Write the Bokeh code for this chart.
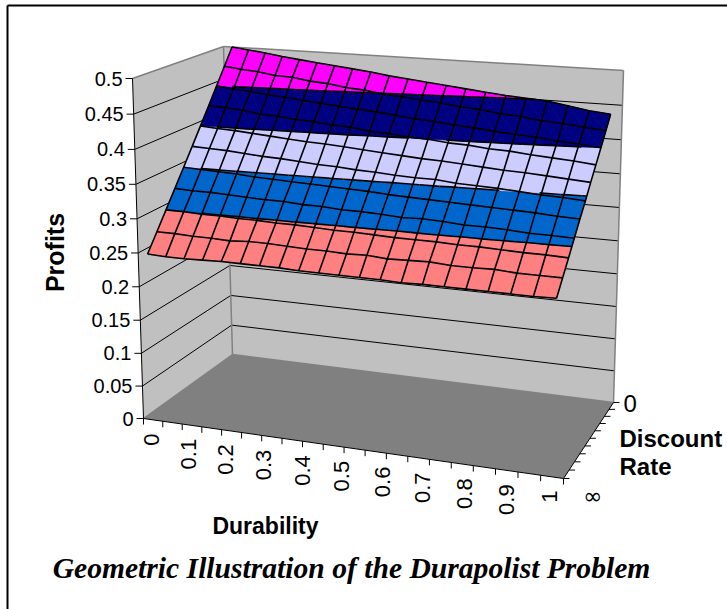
from bokeh.plotting import figure
from bokeh.embed import file_html
from bokeh.resources import INLINE
from bokeh.models import Range1d
from bokeh.core.properties import value
import numpy as np

durability = [round(i * 0.05, 2) for i in range(21)]
discount_steps = list(range(11))
z_ticks = [0, 0.05, 0.1, 0.15, 0.2, 0.25, 0.3, 0.35, 0.4, 0.45, 0.5]
z_labels = ["0", "0.05", "0.1", "0.15", "0.2", "0.25", "0.3", "0.35", "0.4", "0.45", "0.5"]
x_labels = ["0", "0.1", "0.2", "0.3", "0.4", "0.5", "0.6", "0.7", "0.8", "0.9", "1"]
band_edges = [0.2, 0.3, 0.35, 0.4, 0.45, 0.5001]
band_colors = ["#FF8080", "#0066CC", "#CCCCFF", "#000080", "#FF00FF"]

row_0 = [.250,.249,.249,.250,.251,.251,.251,.251,.250,.250,.250,.250,.250,.249,.250,.250,.250,.250,.250,.250,.251]
row_1 = [.275,.275,.274,.274,.273,.275,.275,.274,.273,.273,.272,.273,.271,.272,.273,.271,.271,.272,.270,.270,.270]
row_2 = [.300,.300,.299,.299,.298,.298,.297,.297,.296,.295,.295,.294,.293,.293,.293,.292,.292,.291,.290,.290,.289]
row_3 = [.325,.324,.324,.323,.322,.321,.321,.319,.319,.317,.317,.316,.314,.315,.314,.312,.312,.311,.309,.309,.308]
row_4 = [.350,.349,.348,.347,.345,.344,.343,.342,.341,.340,.339,.337,.336,.335,.334,.333,.332,.331,.330,.328,.327]
row_5 = [.375,.374,.373,.371,.369,.368,.366,.364,.363,.361,.360,.358,.357,.357,.354,.353,.352,.350,.348,.347,.345]
row_6 = [.400,.398,.397,.395,.393,.391,.389,.388,.386,.384,.382,.380,.378,.377,.375,.373,.371,.370,.368,.366,.364]
row_7 = [.425,.424,.422,.418,.417,.414,.413,.410,.409,.405,.404,.401,.400,.397,.396,.393,.392,.389,.387,.385,.382]
row_8 = [.450,.447,.445,.442,.440,.437,.435,.432,.430,.428,.425,.422,.420,.417,.415,.412,.410,.408,.405,.403,.400]
row_9 = [.475,.472,.470,.466,.465,.461,.459,.455,.453,.449,.447,.444,.442,.438,.436,.432,.430,.426,.424,.421,.418]
row_10 = [.500,.497,.494,.490,.487,.484,.481,.478,.475,.471,.468,.465,.462,.459,.456,.453,.451,.449,.444,.439,.436]
profits = [row_0, row_1, row_2, row_3, row_4, row_5, row_6, row_7, row_8, row_9, row_10]

# ---- 3D projection of (durability u, depth v, profit z) onto the page ----
def homography(c):
    (x0, y0), (x1, y1), (x2, y2), (x3, y3) = c  # (0,0) (1,0) (1,1) (0,1)
    dx1, dx2, sx = x1 - x2, x3 - x2, x0 - x1 + x2 - x3
    dy1, dy2, sy = y1 - y2, y3 - y2, y0 - y1 + y2 - y3
    d = dx1 * dy2 - dx2 * dy1
    g = (sx * dy2 - dx2 * sy) / d
    h = (dx1 * sy - sx * dy1) / d
    return np.array([[x1 - x0 + g * x1, x3 - x0 + h * x3, x0],
                     [y1 - y0 + g * y1, y3 - y0 + h * y3, y0],
                     [g, h, 1.0]])

FLOOR = homography([(143, 418), (563, 478), (613, 402), (232, 354)])
ROOF = homography([(132, 78), (574, 112), (623, 70), (223, 46)])
Z_MAX = 0.5
K = 0.054

def quad(H, u, v):
    w = H @ np.array([u, v, 1.0])
    return w[0] / w[2], w[1] / w[2]

def proj(u, v, z):
    t = z / Z_MAX
    t = t / (1 + K - K * t)
    a, b = quad(FLOOR, u, v), quad(ROOF, u, v)
    return a[0] + (b[0] - a[0]) * t, a[1] + (b[1] - a[1]) * t

INSET = 0.025
def surf(c, r):
    return proj(INSET + (1 - 2 * INSET) * durability[c], discount_steps[r] / 10, profits[r][c])

p = figure(width=727, height=609, x_range=Range1d(0, 727), y_range=Range1d(609, 0),
           output_backend="svg", toolbar_location=None, min_border=0,
           outline_line_color=None, background_fill_color="white", border_fill_color="white",
           styles={"position": "absolute", "left": "0px", "top": "0px"})
p.xaxis.visible = False
p.yaxis.visible = False
p.grid.visible = False

def poly(pts, color):
    p.patch([q[0] for q in pts], [q[1] for q in pts], fill_color=color, line_color=None)

def lines(segs, color, width):
    p.multi_line([[a[0], b[0]] for a, b in segs], [[a[1], b[1]] for a, b in segs],
                 line_color=color, line_width=width)

# frame (left and top only)
lines([((7, 5), (7, 609)), ((7, 5), (727, 5))], "#000000", 2)

# walls and floor
poly([proj(0, 0, 0), proj(0, 1, 0), proj(0, 1, Z_MAX), proj(0, 0, Z_MAX)], "#C0C0C0")
poly([proj(0, 1, 0), proj(1, 1, 0), proj(1, 1, Z_MAX), proj(0, 1, Z_MAX)], "#C0C0C0")
poly([proj(0, 0, 0), proj(1, 0, 0), proj(1, 1, 0), proj(0, 1, 0)], "#808080")

# wall grid
grid = []
for z in z_ticks[1:]:
    grid.append((proj(0, 0, z), proj(0, 1, z)))
    grid.append((proj(0, 1, z), proj(1, 1, z)))
lines(grid[:-2], "#000000", 1)
lines([(proj(0, 0, Z_MAX), proj(0, 1, Z_MAX)), (proj(0, 1, Z_MAX), proj(1, 1, Z_MAX)),
       (proj(0, 1, 0), proj(0, 1, Z_MAX)), (proj(1, 1, 0), proj(1, 1, Z_MAX)),
       (proj(0, 0, 0), proj(0, 1, 0)), (proj(0, 1, 0), proj(1, 1, 0))], "#808080", 1.5)

# axes with ticks
axis = [(proj(0, 0, 0), proj(0, 0, Z_MAX)), (proj(0, 0, 0), proj(1, 0, 0)), (proj(1, 0, 0), proj(1, 1, 0))]
for z in z_ticks:
    a = proj(0, 0, z)
    axis.append((a, (a[0] - 7, a[1])))
for i in range(21):
    a = proj(i / 20, 0, 0)
    axis.append((a, (a[0], a[1] + 6)))
for i in range(11):
    a = proj(1, i / 10, 0)
    axis.append((a, (a[0] + 6, a[1])))
lines(axis, "#000000", 1)

# surface: triangles clipped to colour bands
def clip(tri, lo, hi):
    def cut(poly_in, keep, level):
        out = []
        for i, a in enumerate(poly_in):
            b = poly_in[(i + 1) % len(poly_in)]
            ka, kb = keep(a[2]), keep(b[2])
            if ka:
                out.append(a)
            if ka != kb:
                s = (level - a[2]) / (b[2] - a[2])
                out.append((a[0] + s * (b[0] - a[0]), a[1] + s * (b[1] - a[1]), level))
        return out
    res = cut(tri, lambda z: z >= lo, lo)
    return cut(res, lambda z: z <= hi, hi) if res else res

band_polys = [([], []) for _ in band_colors]
contours = []
for r in range(10):
    for c in range(20):
        P = {k: (*surf(*k), profits[k[1]][k[0]]) for k in [(c, r), (c + 1, r), (c, r + 1), (c + 1, r + 1)]}
        tris = [[P[(c, r + 1)], P[(c + 1, r + 1)], P[(c + 1, r)]], [P[(c, r + 1)], P[(c + 1, r)], P[(c, r)]]]
        for tri in tris:
            for b, col in enumerate(band_colors):
                res = clip(tri, band_edges[b], band_edges[b + 1])
                if len(res) >= 3:
                    band_polys[b][0].append([q[0] for q in res])
                    band_polys[b][1].append([q[1] for q in res])
            for level in band_edges[1:-1]:
                pts = []
                for i in range(3):
                    a, b = tri[i], tri[(i + 1) % 3]
                    if (a[2] - level) * (b[2] - level) < 0:
                        s = (level - a[2]) / (b[2] - a[2])
                        pts.append((a[0] + s * (b[0] - a[0]), a[1] + s * (b[1] - a[1])))
                if len(pts) == 2:
                    contours.append((pts[0], pts[1]))
for (xs, ys), col in zip(band_polys, band_colors):
    p.patches(xs, ys, fill_color=col, line_color=col, line_width=0.7)

mesh_x, mesh_y = [], []
for r in range(11):
    q = [surf(c, r) for c in range(21)]
    mesh_x.append([a[0] for a in q]); mesh_y.append([a[1] for a in q])
for c in range(21):
    q = [surf(c, r) for r in range(11)]
    mesh_x.append([a[0] for a in q]); mesh_y.append([a[1] for a in q])
p.multi_line(mesh_x, mesh_y, line_color="#000000", line_width=1.6)
lines(contours, "#000000", 1.6)

# texts
ARIAL = value("Liberation Sans")
SERIF = value("Liberation Serif")
zx, zy = [], []
for z in z_ticks:
    a = proj(0, 0, z)
    zx.append(a[0] - 10); zy.append(a[1])
p.text(zx, zy, text=z_labels, text_font=ARIAL, text_font_size="20px", text_align="right",
       text_baseline="middle", text_color="#000000")
lx, ly = [], []
for i in range(11):
    a = proj(0.02 + 0.95 * i / 10, 0, 0)
    lx.append(a[0]); ly.append(a[1] + 14)
p.text(lx, ly, text=x_labels, text_font=ARIAL, text_font_size="22px", angle=np.pi / 2,
       text_align="right", text_baseline="middle", text_color="#000000")
p.text([623], [403], text=["0"], text_font=ARIAL, text_font_size="24px", text_align="left",
       text_baseline="middle", text_color="#000000")
p.text([592], [495], text=["\u221e"], text_font=value("DejaVu Sans"), text_font_size="23px", text_align="center",
       text_baseline="middle", text_color="#000000")
p.text([619, 619], [438, 466], text=["Discount", "Rate"], text_font=ARIAL, text_font_size="24px",
       text_font_style="bold", text_align="left", text_baseline="middle", text_color="#000000")
p.text([265], [525], text=["Durability"], text_font=ARIAL, text_font_size="23px",
       text_font_style="bold", text_align="center", text_baseline="middle", text_color="#000000")
p.text([54], [252], text=["Profits"], text_font=ARIAL, text_font_size="25px", text_font_style="bold",
       angle=np.pi / 2, text_align="center", text_baseline="middle", text_color="#000000")
p.text([351], [567], text=["Geometric Illustration of the Durapolist Problem"], text_font=SERIF,
       text_font_size="29.6px", text_font_style="bold italic", text_align="center",
       text_baseline="middle", text_color="#000000")

open("out.html", "w").write(file_html(p, INLINE))
